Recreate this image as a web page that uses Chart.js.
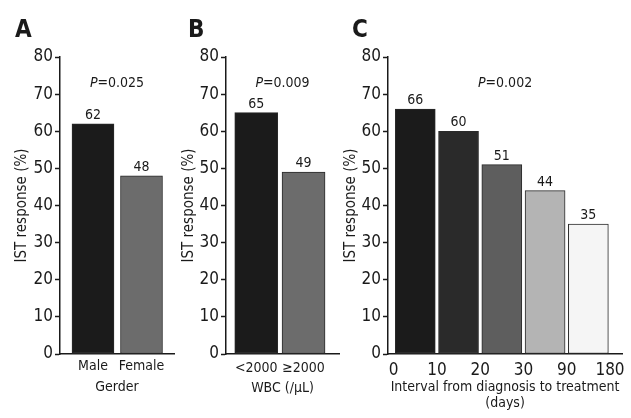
<!DOCTYPE html>
<html>
<head>
<meta charset="utf-8">
<script src="https://cdn.jsdelivr.net/npm/chart.js@4"></script>
<style>
  body { margin: 0; background: #fff; }
  #wrap { position: relative; width: 631px; height: 418px; }
  .pane { position: absolute; top: 0; height: 418px; }
</style>
</head>
<body>
<div id="wrap">
  <div class="pane" style="left:0;width:180px"><canvas id="chartA"></canvas></div>
  <div class="pane" style="left:180px;width:160px"><canvas id="chartB"></canvas></div>
  <div class="pane" style="left:340px;width:291px"><canvas id="chartC"></canvas></div>
</div>
<script>
// data
var genderLabels = ['Male', 'Female'];
var genderValues = [62, 48];

var wbcLabels = ['<2000', '\u22652000'];
var wbcValues = [65, 49];

var intervalTicks = ['0', '10', '20', '30', '90', '180'];
var intervalValues = [66, 60, 51, 44, 35];

var yTicks = [0, 10, 20, 30, 40, 50, 60, 70, 80];

var FONT = "'DejaVu Sans Condensed', 'Liberation Sans', sans-serif";
var INK = '#1a1a1a';

// letter, P value and numbers above bars
var annotate = {
  id: 'annotate',
  afterDatasetsDraw: function (chart, args, opts) {
    var ctx = chart.ctx, area = chart.chartArea;
    ctx.save();
    ctx.fillStyle = INK;
    // panel letter
    ctx.font = 'bold 24px ' + FONT;
    ctx.textAlign = 'left';
    ctx.textBaseline = 'alphabetic';
    ctx.fillText(opts.letter, opts.letterX, 37);
    // P value, P in italics
    ctx.textBaseline = 'middle';
    var rest = '=' + opts.p;
    ctx.font = 'italic 14px ' + FONT;
    var wP = ctx.measureText('P').width;
    ctx.font = '14px ' + FONT;
    var wR = ctx.measureText(rest).width;
    var x0 = (area.left + area.right) / 2 - (wP + wR) / 2;
    ctx.font = 'italic 14px ' + FONT;
    ctx.fillText('P', x0, 83);
    ctx.font = '14px ' + FONT;
    ctx.fillText(rest, x0 + wP, 83);
    // values over the bars
    ctx.textAlign = 'center';
    ctx.textBaseline = 'alphabetic';
    var meta = chart.getDatasetMeta(0);
    var data = chart.data.datasets[0].data;
    meta.data.forEach(function (bar, i) {
      ctx.fillText(String(data[i].y), bar.x, bar.y - 5);
    });
    ctx.restore();
  }
};

function makeChart(id, o) {
  var pts = o.values.map(function (v, i) { return { x: o.pos[i], y: v }; });
  return new Chart(document.getElementById(id), {
    type: 'bar',
    data: {
      datasets: [{
        data: pts,
        backgroundColor: o.colors,
        borderColor: '#2a2a2a',
        borderWidth: 1,
        borderSkipped: false,
        barThickness: o.barW
      }]
    },
    plugins: [annotate],
    options: {
      responsive: true,
      maintainAspectRatio: false,
      animation: false,
      layout: { padding: { top: 57, right: o.padRight, bottom: 0, left: 0 } },
      plugins: {
        legend: { display: false },
        tooltip: { enabled: false },
        annotate: { letter: o.letter, letterX: o.letterX, p: o.p }
      },
      scales: {
        x: {
          type: 'linear',
          offset: false,
          min: o.xmin,
          max: o.xmax,
          afterBuildTicks: function (s) {
            s.ticks = o.tickPos.map(function (v) { return { value: v }; });
          },
          afterFit: function (s) { s.height = 64; },
          ticks: {
            autoSkip: false,
            maxRotation: 0,
            padding: o.tickPad,
            color: INK,
            font: { family: FONT, size: o.tickSize },
            callback: function (v, i) { return o.tickLabels[i]; }
          },
          grid: { display: false, drawTicks: false, offset: false },
          border: { display: true, color: INK, width: 1.5 },
          title: {
            display: true,
            text: o.xTitle,
            color: INK,
            font: { family: FONT, size: o.xTitleSize, lineHeight: o.xTitleLH },
            padding: { top: 0, bottom: o.xTitlePad }
          }
        },
        y: {
          min: 0,
          max: 80,
          afterFit: function (s) { s.width = o.yW; },
          ticks: {
            stepSize: 5,
            padding: 2,
            color: INK,
            font: { family: FONT, size: 17 },
            callback: function (v) { return yTicks.indexOf(v) >= 0 ? v : ''; }
          },
          grid: { drawOnChartArea: false, drawTicks: true, tickLength: 5, color: INK, tickWidth: 1.5 },
          border: { display: true, color: INK, width: 1.5 },
          title: {
            display: true,
            text: 'IST response (%)',
            color: INK,
            font: { family: FONT, size: 15, lineHeight: 1 },
            padding: { top: o.yTitlePad, bottom: 0 }
          }
        }
      }
    }
  });
}

makeChart('chartA', {
  values: genderValues, pos: [0, 1], tickPos: [0, 1], tickLabels: genderLabels,
  colors: ['#1b1b1b', '#6c6c6c'], barW: 42,
  xmin: -0.68, xmax: 1.67, padRight: 6, yW: 60, yTitlePad: 15,
  tickSize: 14, tickPad: 4, xTitle: 'Gerder', xTitleSize: 14, xTitleLH: 1.2, xTitlePad: 22,
  letter: 'A', letterX: 15, p: '0.025'
});

makeChart('chartB', {
  values: wbcValues, pos: [0, 1], tickPos: [0, 1], tickLabels: wbcLabels,
  colors: ['#1b1b1b', '#6c6c6c'], barW: 43,
  xmin: -0.64, xmax: 1.75, padRight: 1, yW: 46, yTitlePad: 2,
  tickSize: 14, tickPad: 6, xTitle: 'WBC (/\u03bcL)', xTitleSize: 14, xTitleLH: 1.2, xTitlePad: 21,
  letter: 'B', letterX: 8, p: '0.009'
});

makeChart('chartC', {
  values: intervalValues, pos: [0.5, 1.5, 2.5, 3.5, 4.5], tickPos: [0, 1, 2, 3, 4, 5], tickLabels: intervalTicks,
  colors: ['#1b1b1b', '#2a2a2a', '#5e5e5e', '#b4b4b4', '#f5f5f5'], barW: 40,
  xmin: -0.13, xmax: 5.28, padRight: 8, yW: 48, yTitlePad: 4,
  tickSize: 17, tickPad: 6, xTitle: ['Interval from diagnosis to treatment', '(days)'], xTitleSize: 14, xTitleLH: '16px', xTitlePad: 7,
  letter: 'C', letterX: 12, p: '0.002'
});
</script>
</body>
</html>
